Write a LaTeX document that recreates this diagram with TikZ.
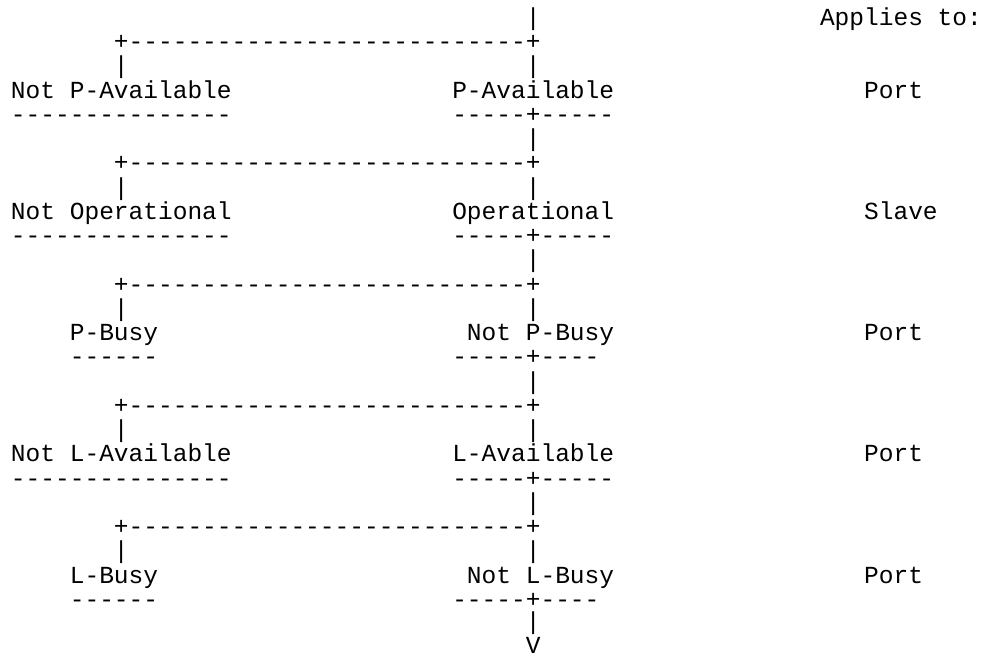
\documentclass[tikz,border=0pt]{standalone}
\usepackage{fontspec}
\setmonofont{Liberation Mono}
\tikzset{
  txt/.style={anchor=base west,inner sep=0pt,font=\ttfamily\fontsize{12.26pt}{12.26pt}\selectfont}
}
\begin{document}
\begin{tikzpicture}[x=7.355pt,y=-12.125pt]
\useasboundingbox (-0.7206,-1.0515) rectangle (66.04,26.0);
% one unit = one character cell of the listing
\node[txt] (in) at (35,0) {|};
\node[txt] (applies) at (55,0) {Applies to:};
\foreach \k/\lcol/\ltxt/\ldash/\rcol/\rtxt/\rdash/\who in {
  0/0/Not P-Available/---------------/30/P-Available/-----+-----/Port,
  1/0/Not Operational/---------------/30/Operational/-----+-----/Slave,
  2/4/P-Busy/------/31/Not P-Busy/-----+----/Port,
  3/0/Not L-Available/---------------/30/L-Available/-----+-----/Port,
  4/4/L-Busy/------/31/Not L-Busy/-----+----/Port}{
  \pgfmathsetmacro{\yy}{5*\k}
  \node[txt] (fork\k) at (7,\yy+1) {+---------------------------+};
  \node[txt] (ldrop\k) at (7,\yy+2) {|};
  \node[txt] (rdrop\k) at (35,\yy+2) {|};
  \node[txt] (no\k) at (\lcol,\yy+3) {\ltxt};
  \node[txt] (yes\k) at (\rcol,\yy+3) {\rtxt};
  \node[txt] (who\k) at (58,\yy+3) {\who};
  \node[txt] (lbar\k) at (\lcol,\yy+4) {\ldash};
  \node[txt] (rbar\k) at (30,\yy+4) {\rdash};
  \ifnum\k<4
    \node[txt] (down\k) at (35,\yy+5) {|};
  \fi
}
\node[txt] (down4) at (35,24.9) {|};
\node[txt] (out) at (35,25.88) {V};
\end{tikzpicture}
\end{document}
